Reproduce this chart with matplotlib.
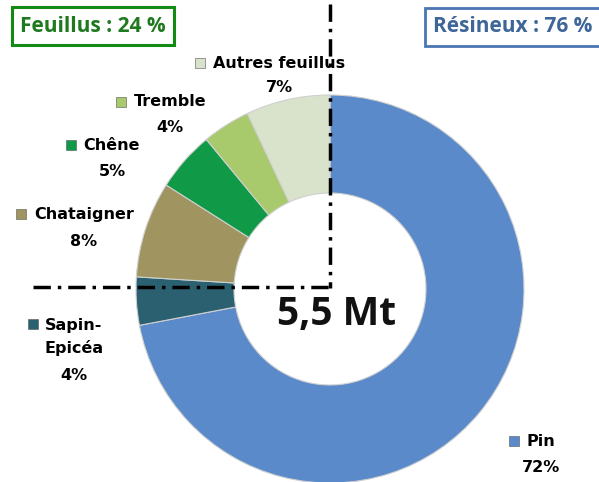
import matplotlib.pyplot as plt

# data
labels = ['Pin', 'Sapin-\nEpicéa', 'Chataigner', 'Chêne', 'Tremble', 'Autres feuillus']
values = [72, 4, 8, 5, 4, 7]
colors = ['#5A8ACA', '#2B6070', '#A09560', '#109A48', '#A8C96C', '#D9E2CB']
total_txt = '5,5 Mt'
feuillus_txt = 'Feuillus : 24 %'
resineux_txt = 'Résineux : 76 %'

# layout (pixel positions, y measured from top)
W, H = 599, 482
label_pos = [(541, 441), (74, 337), (84, 214), (112, 145), (170, 102), (279, 63)]
pct_dy = [26, 39, 27, 26, 26, 25]

def Y(y):
    return H - y

fig = plt.figure(figsize=(W / 100, H / 100), dpi=100)
ax = fig.add_axes([0, 0, 1, 1])

cx, cy, R = 330, 289, 194
ax.pie(values, colors=colors, startangle=90, counterclock=False,
       center=(cx, Y(cy)), radius=R, frame=True,
       wedgeprops=dict(width=98, edgecolor='#d0d0d0', linewidth=0.8))
ax.set_xlim(0, W)
ax.set_ylim(0, H)
ax.set_aspect('equal')
ax.axis('off')

# dash-dot separators
ls = (0, (5, 2, 1, 2))
ax.plot([cx, cx], [Y(4), Y(288)], color='black', lw=2.5, linestyle=ls, zorder=5)
ax.plot([33, cx], [Y(287), Y(287)], color='black', lw=2.5, linestyle=ls, zorder=5)

# labels with legend keys
fig.canvas.draw()
for lab, val, col, (x, y), dy in zip(labels, values, colors, label_pos, pct_dy):
    t = ax.text(x, Y(y), lab, ha='center', va='center', fontsize=11.5,
                fontweight='bold', linespacing=1.55)
    bb = t.get_window_extent(fig.canvas.get_renderer()).transformed(ax.transData.inverted())
    if '\n' in lab:
        kx, ky = 33, Y(y - 13)
    else:
        kx, ky = bb.x0 - 13, Y(y)
    ax.scatter([kx], [ky], marker='s', s=48, color=col, edgecolors='#555555',
               linewidths=0.4, zorder=6)
    ax.text(x, Y(y) - dy, f'{val}%', ha='center', va='center', fontsize=11.5,
            fontweight='bold')

ax.text(337, Y(315), total_txt, ha='center', va='center', fontsize=28,
        fontweight='bold', family='Open Sans', color='#111111')

ax.text(93, Y(26), feuillus_txt, ha='center', va='center', fontsize=15,
        fontweight='bold', family='Open Sans', color='#1F7A1F',
        bbox=dict(boxstyle='square,pad=0.4', fc='white', ec='#138A13', lw=2.2))
ax.text(513, Y(27), resineux_txt, ha='center', va='center', fontsize=15,
        fontweight='bold', family='Open Sans', color='#3E6699',
        bbox=dict(boxstyle='square,pad=0.4', fc='white', ec='#4A76B2', lw=2))

fig.savefig('out.png', dpi=100)
